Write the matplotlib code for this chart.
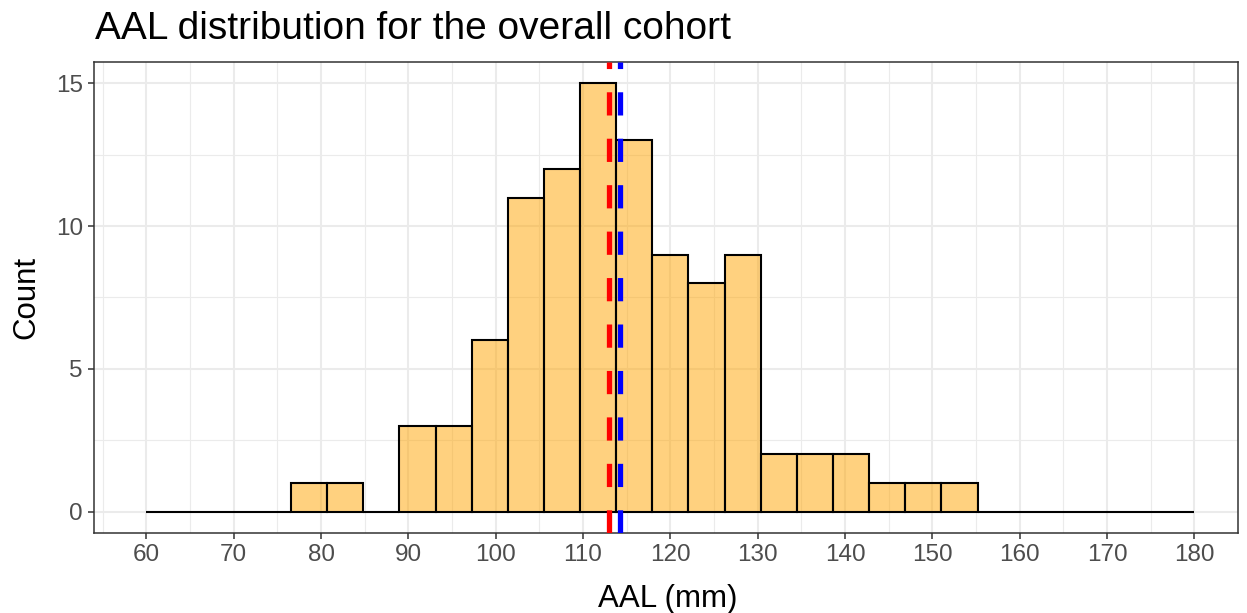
import matplotlib.pyplot as plt
import numpy as np

plt.rcParams['font.family'] = ['Liberation Sans', 'DejaVu Sans']

# histogram: 29 bins between 60 and 180 mm
bin_lo, bin_hi, n_bins = 60, 180, 29
counts = [0, 0, 0, 0, 1, 1, 0, 3, 3, 6, 11, 12, 15, 13, 9, 8, 9,
          2, 2, 2, 1, 1, 1, 0, 0, 0, 0, 0, 0]
median_aal = 113.0
mean_aal = 114.2

x_ticks = list(range(60, 181, 10))
y_ticks = [0, 5, 10, 15]

edges = np.linspace(bin_lo, bin_hi, n_bins + 1)

fig = plt.figure(figsize=(12.47, 6.13), dpi=100)
panel = [0.0754, 0.1305, 0.9174, 0.7684]
ax = fig.add_axes(panel)

# ggplot theme_bw look
ax.set_xlim(54, 185)
ax.set_ylim(-0.75, 15.75)
ax.set_xticks(x_ticks)
ax.set_xticks(np.arange(55, 186, 10), minor=True)
ax.set_yticks(y_ticks)
ax.set_yticks([2.5, 7.5, 12.5], minor=True)
ax.grid(which='major', color='#EBEBEB', linewidth=1.5, zorder=0)
ax.grid(which='minor', color='#EBEBEB', linewidth=0.8, zorder=0)
ax.set_axisbelow(True)
for s in ax.spines.values():
    s.set_color('#333333')
    s.set_linewidth(1.1)
ax.tick_params(which='major', length=4, width=1.1, color='#333333',
               labelsize=17.5, labelcolor='#4D4D4D', pad=4)
ax.tick_params(which='minor', length=0)

ax.bar(edges[:-1], counts, width=np.diff(edges), align='edge',
       facecolor=(1.0, 0.647, 0.0, 0.5), edgecolor='black', linewidth=1.5,
       zorder=2)

# median (red) and mean (blue)
ax.axvline(median_aal, color='red', linewidth=3.8, linestyle=(0, (4.4, 4.4)), zorder=3)
ax.axvline(mean_aal, color='blue', linewidth=3.8, linestyle=(0, (4.4, 4.4)), zorder=3)

fig.text(0.0762, 1 - 39 / 613, 'AAL distribution for the overall cohort',
         fontsize=28, va='baseline', ha='left')
fig.text(668 / 1247, 1 - 607 / 613, 'AAL (mm)', fontsize=22.5,
         va='baseline', ha='center')
fig.text(26 / 1247, panel[1] + panel[3] / 2, 'Count', fontsize=22.5,
         rotation=90, va='center', ha='center')

fig.savefig('out.png', dpi=100)
